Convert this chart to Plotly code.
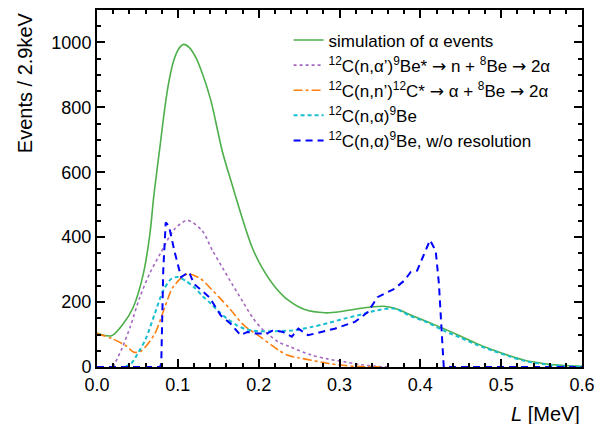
import plotly.graph_objects as go

# ---- data ----
sim_x = [0.0, 0.004, 0.018, 0.0327, 0.045, 0.0573, 0.0654, 0.0704, 0.0777, 0.0838, 0.089, 0.095, 0.101, 0.107, 0.114, 0.122, 0.131, 0.141, 0.155, 0.167, 0.1795, 0.192, 0.204, 0.2205, 0.237, 0.257, 0.282, 0.30, 0.319, 0.337, 0.355, 0.372, 0.388, 0.408, 0.429, 0.45, 0.47, 0.49, 0.511, 0.53, 0.552, 0.57, 0.584, 0.6]
sim_y = [105, 101, 96, 134, 185, 287, 409, 530, 675, 797, 880, 945, 980, 994, 985, 955, 900, 820, 665, 563, 460, 368, 307, 246, 205, 177, 167, 170, 178, 184, 187, 178, 160, 140, 118, 95, 72, 52, 34, 20, 11, 6, 4, 2]

alpha_p_x = [0.02, 0.031, 0.041, 0.053, 0.065, 0.078, 0.096, 0.112, 0.130, 0.143, 0.155, 0.167, 0.1795, 0.192, 0.204, 0.2245, 0.239, 0.265, 0.285, 0.306, 0.327, 0.345, 0.36]
alpha_p_y = [0, 58, 123, 215, 287, 348, 425, 452, 420, 358, 307, 256, 205, 154, 118, 77, 62, 37, 25, 16, 7, 2, 0]

nn_x = [0.0, 0.018, 0.035, 0.046, 0.055, 0.0716, 0.084, 0.094, 0.112, 0.128, 0.141, 0.153, 0.165, 0.1816, 0.202, 0.2245, 0.235, 0.25, 0.265, 0.286, 0.30, 0.32, 0.35]
nn_y = [103, 88, 67, 45, 50, 103, 185, 246, 287, 272, 241, 210, 177, 129, 93, 52, 37, 28, 21, 11, 6, 2, 0]

nalpha_x = [0.035, 0.0425, 0.05, 0.06, 0.0716, 0.082, 0.092, 0.0998, 0.11, 0.12, 0.13, 0.141, 0.151, 0.161, 0.172, 0.182, 0.192, 0.202, 0.215, 0.2245, 0.243, 0.265, 0.285, 0.306, 0.327, 0.347, 0.368, 0.388, 0.408, 0.429, 0.45, 0.47, 0.49, 0.511, 0.53, 0.552, 0.57, 0.584, 0.6]
nalpha_y = [0, 11, 40, 85, 165, 236, 272, 277, 265, 246, 220, 195, 170, 149, 130, 118, 112, 110, 110, 111, 113, 123, 135, 149, 162, 175, 180, 157, 138, 112, 90, 68, 50, 32, 18, 9, 4, 2, 1]

nores_x = [0.0, 0.078, 0.0795, 0.082, 0.085, 0.089, 0.0957, 0.104, 0.109, 0.114, 0.12, 0.139, 0.153, 0.165, 0.1775, 0.186, 0.198, 0.21, 0.218, 0.23, 0.241, 0.249, 0.261, 0.278, 0.294, 0.319, 0.335, 0.347, 0.368, 0.38, 0.388, 0.396, 0.4045, 0.412, 0.419, 0.423, 0.427, 0.429, 0.6]
nores_y = [0, 0, 11, 300, 445, 435, 358, 277, 285, 292, 256, 215, 159, 134, 98, 108, 103, 103, 113, 108, 93, 118, 98, 108, 118, 139, 169, 215, 241, 266, 292, 297, 348, 391, 358, 256, 83, 0, 0]

ARR = "<span style='font-family:DejaVu Sans'>\u2192</span>"
names = [
    "simulation of \u03b1 events",
    "<sup>12</sup>C(n,\u03b1\u2019)<sup>9</sup>Be* " + ARR + " n + <sup>8</sup>Be " + ARR + " 2\u03b1",
    "<sup>12</sup>C(n,n\u2019)<sup>12</sup>C* " + ARR + " \u03b1 + <sup>8</sup>Be " + ARR + " 2\u03b1",
    "<sup>12</sup>C(n,\u03b1)<sup>9</sup>Be",
    "<sup>12</sup>C(n,\u03b1)<sup>9</sup>Be, w/o resolution",
]

FONT = "Liberation Sans, Arial, sans-serif"

fig = go.Figure()
fig.add_trace(go.Scatter(x=sim_x, y=sim_y, mode="lines", name=names[0],
                         line=dict(color="#4daf4a", width=1.6, shape="spline", smoothing=0.8)))
fig.add_trace(go.Scatter(x=alpha_p_x, y=alpha_p_y, mode="lines", name=names[1],
                         line=dict(color="#a468c0", width=1.6, dash="dot", shape="spline", smoothing=0.8)))
fig.add_trace(go.Scatter(x=nn_x, y=nn_y, mode="lines", name=names[2],
                         line=dict(color="#ff7f0e", width=1.6, dash="dashdot", shape="spline", smoothing=0.8)))
fig.add_trace(go.Scatter(x=nalpha_x, y=nalpha_y, mode="lines", name=names[3],
                         line=dict(color="#17becf", width=2, dash="4px,3px", shape="spline", smoothing=0.8)))
fig.add_trace(go.Scatter(x=nores_x, y=nores_y, mode="lines", name=names[4],
                         line=dict(color="#0000ff", width=2, dash="7px,5px")))

axis_common = dict(
    showline=True, linecolor="black", linewidth=2, mirror="allticks",
    ticks="inside", ticklen=8, tickwidth=2, tickcolor="black",
    showgrid=False, zeroline=False,
    tickfont=dict(family=FONT, size=18, color="black"),
)

fig.update_xaxes(range=[0, 0.6], dtick=0.1, tickformat=".1f",
                 minor=dict(dtick=0.02, ticks="inside", ticklen=4, tickwidth=1.5, tickcolor="black"),
                 **axis_common)
fig.update_yaxes(range=[0, 1100], dtick=200,
                 minor=dict(dtick=50, ticks="inside", ticklen=4, tickwidth=1.5, tickcolor="black"),
                 **axis_common)

fig.add_annotation(text="<i>L</i> [MeV]", xref="paper", yref="paper", x=1.0, y=-0.095,
                   xanchor="right", yanchor="top", showarrow=False,
                   font=dict(family=FONT, size=20, color="black"))
fig.add_annotation(text="Events / 2.9keV", xref="paper", yref="paper", x=-0.176, y=1.0,
                   xanchor="left", yanchor="top", textangle=-90, showarrow=False,
                   font=dict(family=FONT, size=20, color="black"))

fig.update_layout(
    width=603, height=424,
    margin=dict(l=97, r=17, t=8, b=57),
    paper_bgcolor="white", plot_bgcolor="white",
    showlegend=True,
    legend=dict(x=0.395, y=0.965, xanchor="left", yanchor="top",
                bgcolor="rgba(0,0,0,0)", borderwidth=0, tracegroupgap=0,
                font=dict(family=FONT, size=17, color="black")),
)

fig.write_html("out.html", config={"displayModeBar": False},
               post_script="document.body.style.margin='0';")
